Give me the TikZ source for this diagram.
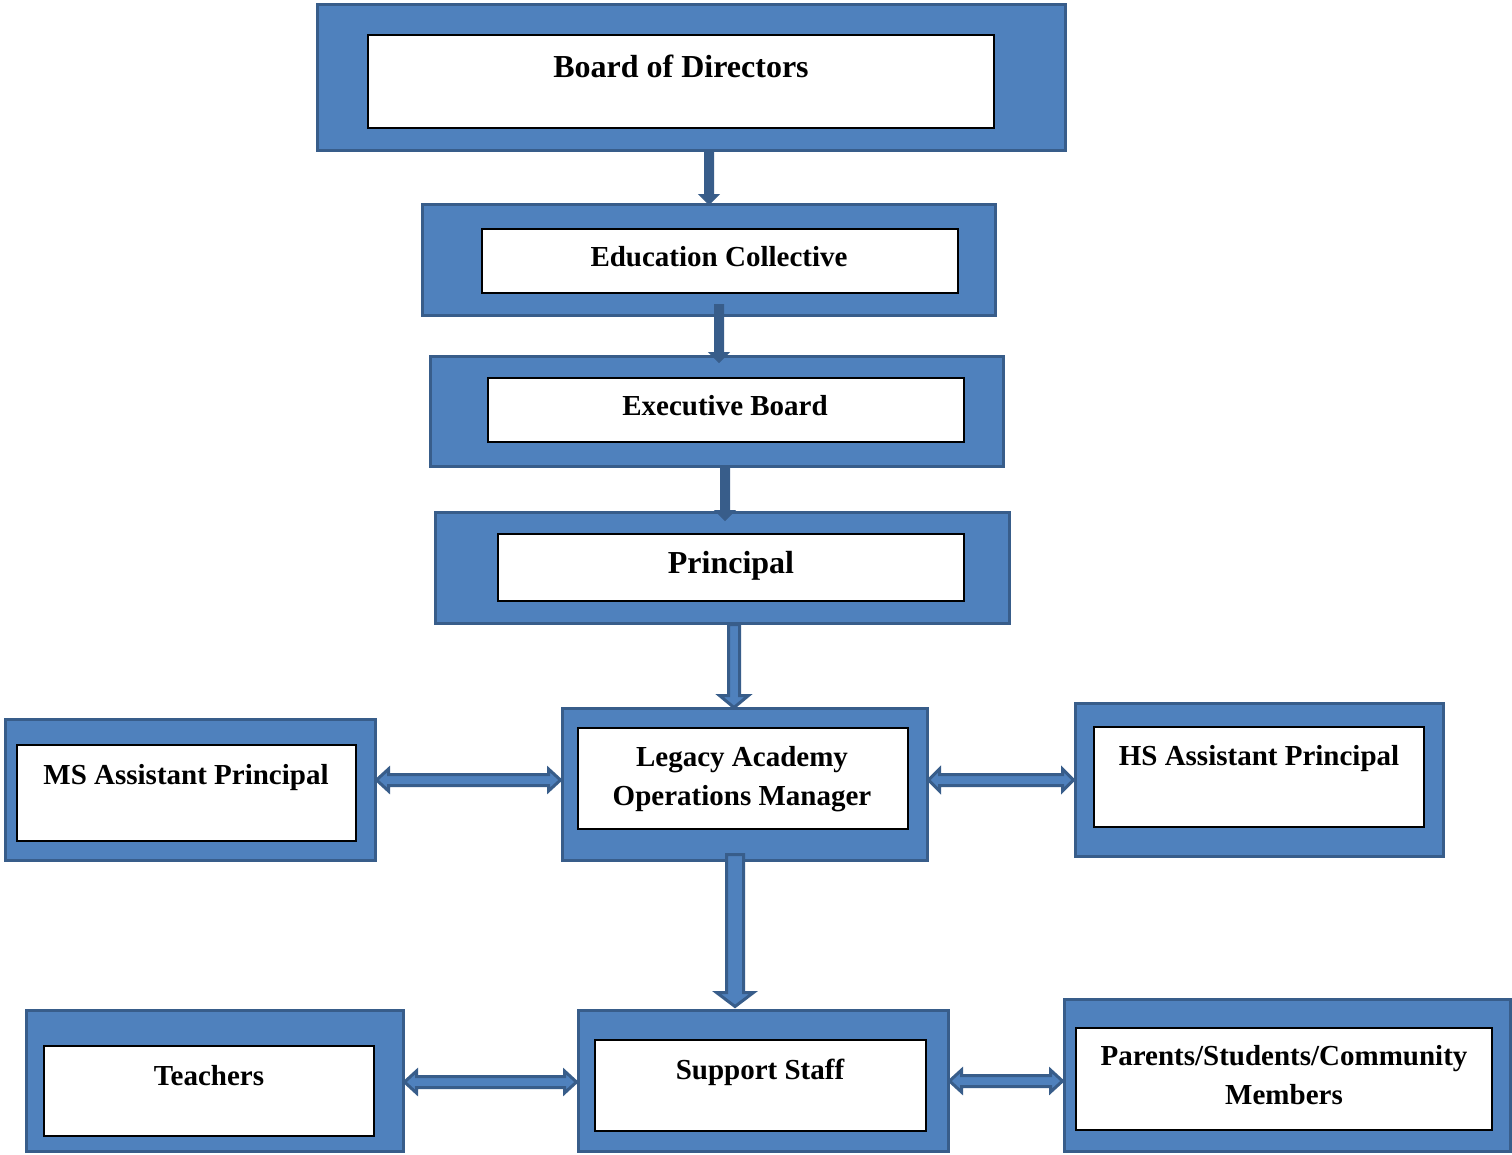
\documentclass[tikz,border=0pt]{standalone}
\usepackage{fontspec}
\setmainfont{Liberation Serif}
\usetikzlibrary{calc}
\definecolor{frameblue}{HTML}{4F81BD}
\definecolor{edgeblue}{HTML}{385D8A}
\tikzset{
  outerbox/.style={draw=edgeblue, fill=frameblue, line width=3pt, rectangle, inner sep=0pt},
  innerbox/.style={draw=black, fill=white, line width=2pt, rectangle, inner sep=0pt},
  lbl/.style={font=\bfseries\fontsize{29}{39}\selectfont, anchor=base, inner sep=0pt, align=center},
  biglbl/.style={font=\bfseries\fontsize{32}{39}\selectfont, anchor=base, inner sep=0pt, align=center},
  twolbl/.style={font=\bfseries\fontsize{29}{39}\selectfont, anchor=center, inner sep=0pt, align=center},
  blockarrow/.style={draw=edgeblue, fill=frameblue, line width=3pt, line join=miter},
  thinarrow/.style={draw=edgeblue, fill=edgeblue, line width=1pt, line join=miter},
}
% #1 style, #2 from, #3 to, #4 half shaft, #5 half head, #6 head length
\newcommand\downblock[6]{%
  \draw[#1] let \p1=#2, \p2=#3 in
  (\x1-#4pt,\y1) -- (\x1-#4pt,\y2+#6pt) -- (\x1-#5pt,\y2+#6pt) -- (\x1,\y2)
  -- (\x1+#5pt,\y2+#6pt) -- (\x1+#4pt,\y2+#6pt) -- (\x1+#4pt,\y1) -- cycle;}
% #1 from, #2 to, #3 half shaft, #4 half head, #5 head length
\newcommand\hblock[5]{%
  \draw[blockarrow] let \p1=#1, \p2=#2 in
  (\x1,\y1) -- (\x1+#5pt,\y1+#4pt) -- (\x1+#5pt,\y1+#3pt) -- (\x2-#5pt,\y1+#3pt)
  -- (\x2-#5pt,\y1+#4pt) -- (\x2,\y1) -- (\x2-#5pt,\y1-#4pt) -- (\x2-#5pt,\y1-#3pt)
  -- (\x1+#5pt,\y1-#3pt) -- (\x1+#5pt,\y1-#4pt) -- cycle;}
\begin{document}
\begin{tikzpicture}[x=1pt,y=-1pt]
\path[use as bounding box, fill=white] (0,0) rectangle (1512,1154);

% outer frames
\node[outerbox, minimum width=748, minimum height=146] (bod) at (691,77) {};
\node[outerbox, minimum width=573, minimum height=111] (edu) at (708.5,259.5) {};
\node[outerbox, minimum width=573, minimum height=110] (exe) at (716.5,411) {};
\node[outerbox, minimum width=574, minimum height=111] (pri) at (722,567.5) {};
\node[outerbox, minimum width=365, minimum height=152] (leg) at (744.5,784) {};
\node[outerbox, minimum width=370, minimum height=141] (ms) at (190,789.5) {};
\node[outerbox, minimum width=368, minimum height=153] (hs) at (1259,779.5) {};
\node[outerbox, minimum width=377, minimum height=141] (tea) at (214.5,1080.5) {};
\node[outerbox, minimum width=370, minimum height=141] (sup) at (763,1080.5) {};
\node[outerbox, minimum width=446, minimum height=152] (par) at (1287,1075) {};

% inner boxes
\node[innerbox, minimum width=626, minimum height=93] (bodi) at (681,81.5) {};
\node[innerbox, minimum width=476, minimum height=64] (edui) at (720,261) {};
\node[innerbox, minimum width=476, minimum height=64] (exei) at (726,410) {};
\node[innerbox, minimum width=466, minimum height=67] (prii) at (731,567.5) {};
\node[innerbox, minimum width=330, minimum height=101] (legi) at (743,778.5) {};
\node[innerbox, minimum width=339, minimum height=96] (msi) at (186.5,793) {};
\node[innerbox, minimum width=330, minimum height=100] (hsi) at (1259,777) {};
\node[innerbox, minimum width=330, minimum height=90] (teai) at (209,1091) {};
\node[innerbox, minimum width=331, minimum height=91] (supi) at (760.5,1085.5) {};
\node[innerbox, minimum width=416, minimum height=102] (pari) at (1284,1079) {};

% labels
\node[biglbl] (bodt) at (681,77) {Board of Directors};
\node[lbl] (edut) at (719,266.5) {Education Collective};
\node[lbl] (exet) at (725,415.5) {Executive Board};
\node[biglbl] (prit) at (731,573) {Principal};
\node[twolbl] (legt) at (742,779.5) {Legacy Academy\\Operations Manager};
\node[lbl] (mst) at (186,784.5) {MS Assistant Principal};
\node[lbl] (hst) at (1259,765.5) {HS Assistant Principal};
\node[lbl] (teat) at (209,1085.5) {Teachers};
\node[lbl] (supt) at (760,1079.5) {Support Staff};
\node[twolbl] (part) at (1284,1075) {Parents/Students/Community\\Members};

% vertical arrows
\downblock{thinarrow}{($(bod.south)+(18,0)$)}{($(edu.north)+(0,2)$)}{4.5}{10}{10}
\downblock{thinarrow}{($(edu.south)+(10.5,-12)$)}{($(exe.north)+(0,8)$)}{4.5}{10}{10}
\downblock{thinarrow}{($(exe.south)+(8.5,0)$)}{($(pri.north)+(0,10)$)}{4.5}{10}{10}
\downblock{blockarrow}{($(pri.south)+(12,0)$)}{($(leg.north)+(0,1)$)}{5.5}{14.5}{12}
\downblock{blockarrow}{($(leg.south)+(-9.5,-7)$)}{($(sup.north)+(0,-2)$)}{8.5}{18.5}{14}

% horizontal double arrows
\hblock{($(ms.east)+(0,-9.5)$)}{(leg.west)}{5.5}{11}{12}
\hblock{($(leg.east)+(0,-4)$)}{(hs.west)}{5.5}{11}{11}
\hblock{($(tea.east)+(0,1.5)$)}{(sup.west)}{5.5}{11}{12}
\hblock{($(sup.east)+(0,0.5)$)}{(par.west)}{5.5}{11}{12}
\end{tikzpicture}
\end{document}
